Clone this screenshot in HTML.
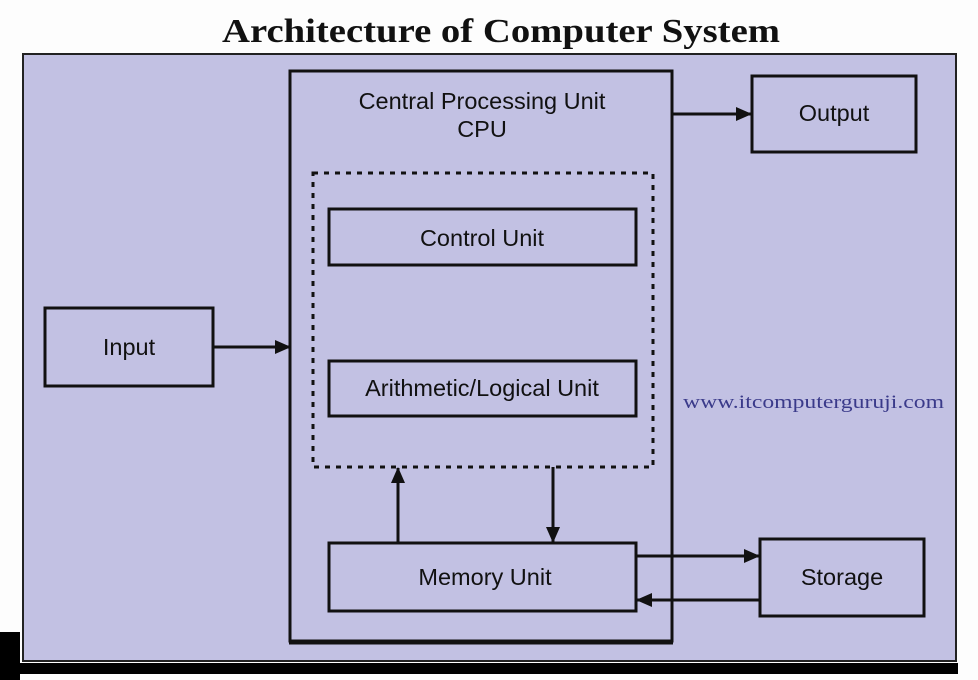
<!DOCTYPE html>
<html><head><meta charset="utf-8"><style>html,body{margin:0;padding:0;background:#fff;}svg{display:block}</style></head>
<body>
<svg width="978" height="680" viewBox="0 0 978 680" xmlns="http://www.w3.org/2000/svg">
<defs><marker id="ah" markerWidth="16" markerHeight="14" refX="15" refY="7" orient="auto" markerUnits="userSpaceOnUse"><path d="M0,0 L16,7 L0,14 Z" fill="#111"/></marker></defs>
<rect width="978" height="680" fill="#fdfdfd"/>
<text x="222" y="42" textLength="558" lengthAdjust="spacingAndGlyphs" font-family="Liberation Serif, serif" font-weight="bold" font-size="34" fill="#111">Architecture of Computer System</text>
<rect x="0" y="632" width="20" height="48" fill="#000"/>
<rect x="0" y="663" width="958" height="11" fill="#000"/>
<rect x="23" y="54" width="933" height="607" fill="#c2c1e3" stroke="#222" stroke-width="2"/>
<g fill="none" stroke="#111" stroke-width="3">
<rect x="290" y="71" width="382" height="570"/>
<line x1="289" y1="642" x2="673" y2="642" stroke-width="5"/>
<rect x="313" y="173" width="340" height="294" stroke-dasharray="5,6"/>
<rect x="329" y="209" width="307" height="56"/>
<rect x="329" y="361" width="307" height="55"/>
<rect x="329" y="543" width="307" height="68"/>
<rect x="45" y="308" width="168" height="78"/>
<rect x="752" y="76" width="164" height="76"/>
<rect x="760" y="539" width="164" height="77"/>
<line x1="213" y1="347" x2="290" y2="347" marker-end="url(#ah)"/>
<line x1="672" y1="114" x2="751" y2="114" marker-end="url(#ah)"/>
<line x1="398" y1="543" x2="398" y2="468" marker-end="url(#ah)"/>
<line x1="553" y1="467" x2="553" y2="542" marker-end="url(#ah)"/>
<line x1="636" y1="556" x2="759" y2="556" marker-end="url(#ah)"/>
<line x1="760" y1="600" x2="637" y2="600" marker-end="url(#ah)"/>
</g>
<g font-family="Liberation Sans, sans-serif" font-size="23.5" fill="#111" text-anchor="middle">
<text x="482" y="109">Central Processing Unit</text>
<text x="482" y="137">CPU</text>
<text x="482" y="246">Control Unit</text>
<text x="482" y="396">Arithmetic/Logical Unit</text>
<text x="485" y="585">Memory Unit</text>
<text x="129" y="355">Input</text>
<text x="834" y="121">Output</text>
<text x="842" y="585">Storage</text>
</g>
<text x="683" y="408" textLength="261" lengthAdjust="spacingAndGlyphs" font-family="Liberation Serif, serif" font-size="19" fill="#3a3a8a">www.itcomputerguruji.com</text>
</svg>
</body></html>
